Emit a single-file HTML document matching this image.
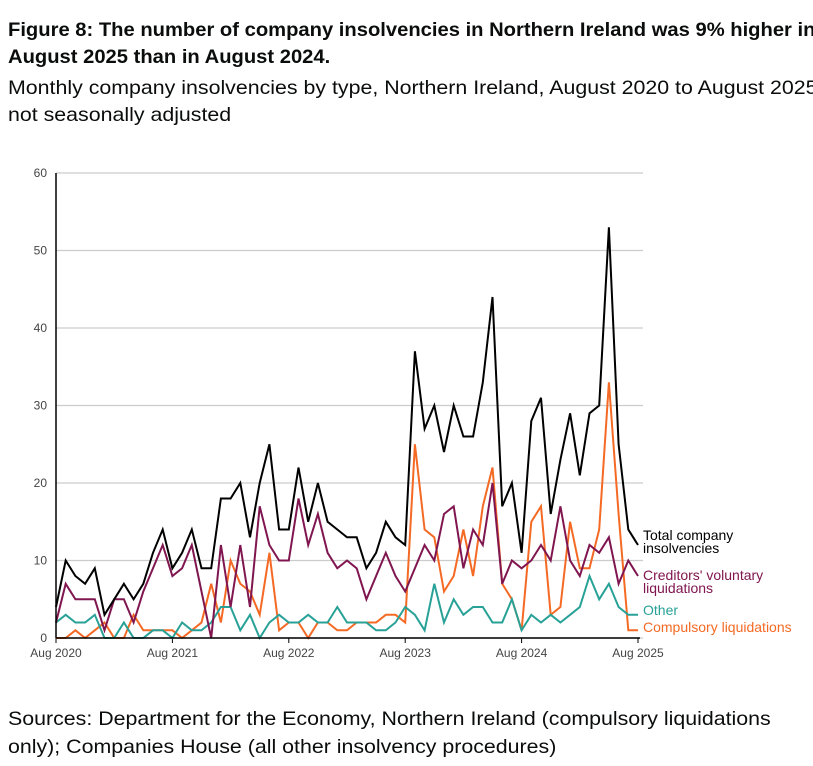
<!DOCTYPE html>
<html><head><meta charset="utf-8"><style>
body{margin:0;background:#fff;width:813px;height:766px;overflow:hidden;font-family:"Liberation Sans",sans-serif;position:relative}
.t{position:absolute;left:8px;white-space:nowrap;color:#0b0c0c;font-size:19.5px;transform-origin:0 0}
</style></head><body>
<div class="t" style="top:17px;font-weight:bold;line-height:27px;transform:scaleX(1.035)">Figure 8: The number of company insolvencies in Northern Ireland was 9% higher in<br>August 2025 than in August 2024.</div>
<div class="t" style="top:75px;line-height:27px;transform:scaleX(1.095)">Monthly company insolvencies by type, Northern Ireland, August 2020 to August 2025,<br>not seasonally adjusted</div>
<div class="t" style="top:705px;line-height:28px;transform:scaleX(1.095)">Sources: Department for the Economy, Northern Ireland (compulsory liquidations<br>only); Companies House (all other insolvency procedures)</div>
<svg id="c" width="813" height="766" style="position:absolute;left:0;top:0" font-family="Liberation Sans, sans-serif"></svg>
<script>
const s=document.getElementById('c');let h='';
const X=m=>56+m*9.7, Y=v=>638-v*7.75;
for(let v=0;v<=60;v+=10){h+=`<line x1="56" x2="643" y1="${Y(v)}" y2="${Y(v)}" stroke="#cccccc" stroke-width="1.3"/>`;
h+=`<text x="47" y="${Y(v)+4}" font-size="12" fill="#444" text-anchor="end">${v}</text>`;}
const yrs=['2020','2021','2022','2023','2024','2025'];
yrs.forEach((y,i)=>{const x=X(i*12);h+=`<line x1="${x}" x2="${x}" y1="638" y2="643" stroke="#000"/><text x="${x}" y="657" font-size="12" fill="#444" text-anchor="middle">Aug ${y}</text>`;});
const D={
'#f46a25':[0,0,1,0,1,2,0,0,3,1,1,1,1,0,1,2,7,2,10,7,6,3,11,1,2,2,0,2,2,1,1,2,2,2,3,3,2,25,14,13,6,8,14,8,17,22,7,5,1,15,17,3,4,15,9,9,14,33,16,1,1],
'#28a197':[2,3,2,2,3,0,0,2,0,0,1,1,0,2,1,1,2,4,4,1,3,0,2,3,2,2,3,2,2,4,2,2,2,1,1,2,4,3,1,7,2,5,3,4,4,2,2,5,1,3,2,3,2,3,4,8,5,7,4,3,3],
'#801650':[2,7,5,5,5,1,5,5,2,6,9,12,8,9,12,6,0,12,4,12,4,17,12,10,10,18,12,16,11,9,10,9,5,8,11,8,6,9,12,10,16,17,9,14,12,20,7,10,9,10,12,10,17,10,8,12,11,13,7,10,8],
'#000000':[4,10,8,7,9,3,5,7,5,7,11,14,9,11,14,9,9,18,18,20,13,20,25,14,14,22,15,20,15,14,13,13,9,11,15,13,12,37,27,30,24,30,26,26,33,44,17,20,11,28,31,16,23,29,21,29,30,53,25,14,12]};
for(const c in D){h+=`<polyline fill="none" stroke="${c}" stroke-width="2" stroke-linejoin="miter" points="${D[c].map((v,m)=>X(m).toFixed(1)+','+Y(v).toFixed(1)).join(' ')}"/>`;}
h+=`<line x1="56" x2="56" y1="173" y2="638" stroke="#000" stroke-width="1.5"/><line x1="56" x2="640" y1="638" y2="638" stroke="#000" stroke-width="1.5"/>`;
const L=[['Total company',540,'#000'],['insolvencies',553,'#000'],["Creditors' voluntary",580,'#801650'],['liquidations',593,'#801650'],['Other',615,'#28a197'],['Compulsory liquidations',632,'#f46a25']];
L.forEach(l=>h+=`<text x="643" y="${l[1]}" font-size="14" fill="${l[2]}">${l[0]}</text>`);
s.innerHTML=h;
</script>
</body></html>
